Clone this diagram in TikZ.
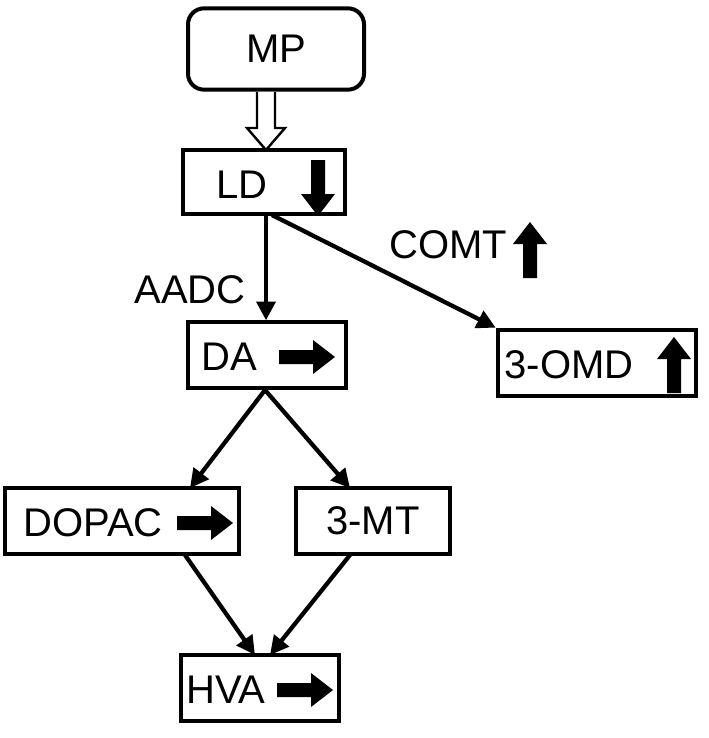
\documentclass[tikz,border=0pt]{standalone}
\usepackage{fontspec}
\setmainfont{Liberation Sans}
\usetikzlibrary{arrows.meta}
\begin{document}
\begin{tikzpicture}[x=0.75pt,y=-0.75pt,
  box/.style={draw,line width=3pt,inner sep=0pt,font=\fontsize{30}{34}\selectfont},
  lbl/.style={font=\fontsize{30}{34}\selectfont},
  blk/.pic={\fill[black] (-28,-7) -- (6,-7) -- (6,-17) -- (28,0) -- (6,17) -- (6,7) -- (-28,7) -- cycle;},
  con/.style={line width=3.2pt,-{Triangle[length=14pt,width=14pt]}}]
\useasboundingbox (0,0) rectangle (709,738);
\node[box,rounded corners=12pt,minimum width=132pt,minimum height=61pt] (mp) at (276,49) {MP};
\node[box,minimum width=121pt,minimum height=48pt] (ld) at (264,182) {};
\node[lbl] (ldt) at (242,185) {LD};
\pic[rotate=-90] at (318,188) {blk};
\node[box,minimum width=119pt,minimum height=49pt] (da) at (267,355) {};
\node[lbl] (dat) at (229,357) {DA};
\pic at (307,357) {blk};
\node[box,minimum width=149pt,minimum height=50pt] (omd) at (597,363) {};
\node[lbl] (omdt) at (569,365) {3-OMD};
\pic[rotate=90] at (674,365) {blk};
\node[box,minimum width=176pt,minimum height=50pt] (dopac) at (122,521) {};
\node[lbl] (dopact) at (93,523) {DOPAC};
\pic at (205,523) {blk};
\node[box,minimum width=115pt,minimum height=50pt] (mt) at (373,521) {3-MT};
\node[box,minimum width=119pt,minimum height=49pt] (hva) at (260,688) {};
\node[lbl] (hvat) at (226,690) {HVA};
\pic at (305,690) {blk};
\node[lbl] (aadc) at (190,290) {AADC};
\node[lbl] (comt) at (448,245) {COMT};
\pic[rotate=90] at (530,250) {blk};
\draw[line width=1.8pt,fill=white] (257,92) -- (257,128) -- (247,128) -- (266,150) -- (285,128) -- (275,128) -- (275,92);
\draw[con] (266,215) -- (da.north -| 266,0);
\draw[con] (272,215) -- (omd.north west);
\draw[con] (265,390) -- (190,488);
\draw[con] (265,390) -- (350,488);
\draw[con] (185,555) -- (255,655);
\draw[con] (350,555) -- (270,655);
\end{tikzpicture}
\end{document}
